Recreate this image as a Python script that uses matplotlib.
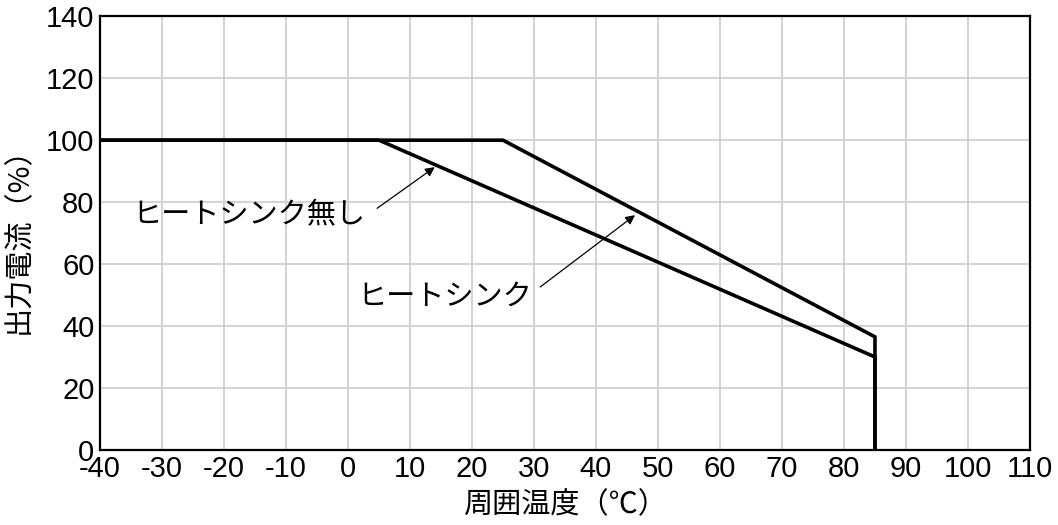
import numpy as np
import matplotlib
matplotlib.use('Agg')
from matplotlib import pyplot as plt

plt.rcParams['font.family'] = ['Noto Sans CJK JP', 'DejaVu Sans']
plt.rcParams['axes.unicode_minus'] = False

# derating curves (ambient temp -> output current %)
temp_hs = [-40, 25, 85, 85]
curr_hs = [100, 100, 36.5, 0]
temp_nohs = [-40, 5, 85, 85]
curr_nohs = [100, 100, 30, 0]

x_ticks = list(range(-40, 111, 10))
y_ticks = list(range(0, 141, 20))

fig = plt.figure(figsize=(10.58, 5.25), dpi=100)
ax = fig.add_axes([0.0945, 0.143, 0.879, 0.826])

ax.plot(temp_hs, curr_hs, color='black', lw=2.6, solid_joinstyle='miter', zorder=3)
ax.plot(temp_nohs, curr_nohs, color='black', lw=2.6, solid_joinstyle='miter', zorder=3)

ax.set_xlim(-40, 110)
ax.set_ylim(0, 140)
ax.set_xticks(x_ticks)
ax.set_yticks(y_ticks)
ax.grid(True, color='#d0d0d0', lw=1.3)
ax.set_axisbelow(True)
ax.tick_params(length=0, labelsize=21, pad=4)
for lab in ax.get_xticklabels() + ax.get_yticklabels():
    lab.set_fontfamily('Liberation Sans')
for s in ax.spines.values():
    s.set_linewidth(1.6)
    s.set_color('black')

# labels and arrows
ax.text(-34.7, 75.8, 'ヒートシンク無し', fontsize=21, ha='left', va='center')
ax.annotate('', xy=(14.0, 91.3), xytext=(4.7, 78),
            arrowprops=dict(arrowstyle='-|>', color='black', lw=0.9,
                            mutation_scale=14, shrinkA=0, shrinkB=0))
ax.text(1.45, 49.4, 'ヒートシンク', fontsize=21, ha='left', va='center')
ax.annotate('', xy=(46.3, 75.8), xytext=(31.0, 52.6),
            arrowprops=dict(arrowstyle='-|>', color='black', lw=0.9,
                            mutation_scale=14, shrinkA=0, shrinkB=0))

ax.set_xlabel('周囲温度（℃）', fontsize=21, labelpad=5)
ax.set_ylabel('出力電流（%）', fontsize=21, labelpad=9)

fig.savefig('out.png', dpi=100)
